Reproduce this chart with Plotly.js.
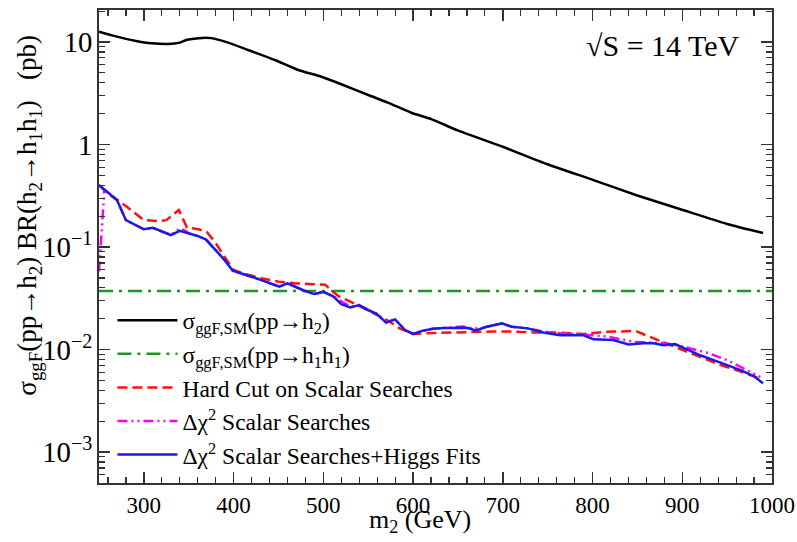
<!DOCTYPE html>
<html><head><meta charset="utf-8">
<script src="https://cdn.plot.ly/plotly-3.0.1.min.js"></script>
<style>body{margin:0;background:#fff}#c{width:797px;height:542px}</style>
</head><body><div id="c"></div>
<script>
// Black: sigma_ggF,SM(pp->h2)
const xSM = [250,268,290,309,327,340,348,361,375,394,416,446,472,498,520,550,572,598,621,649,700,749,801,849,898,950,990];
const ySM = [12.6,11.4,10.3,9.7,9.55,9.85,10.5,10.9,10.9,9.85,8.35,6.67,5.33,4.58,3.87,3.04,2.56,2.04,1.76,1.38,0.95,0.645,0.45,0.32,0.234,0.168,0.137];
// Green: sigma_ggF,SM(pp->h1h1)
const xHH = [250,1000];
const yHH = [0.0372,0.0372];
// Red dashed: Hard Cut on Scalar Searches
const xHard = [250,260,270,281,300,316,325,339,348,361,370,379,390,400,413,431,450,468,487,502,510,518,533,548,571,585,600,622,645,667,689,711,734,756,790,816,848,864,882,901,920,942,965,987];
const yHard = [0.40,0.33,0.29,0.247,0.183,0.179,0.183,0.23,0.155,0.149,0.141,0.113,0.080,0.0597,0.0545,0.0496,0.046,0.0443,0.0434,0.043,0.037,0.0327,0.0286,0.0247,0.0194,0.0161,0.0142,0.0145,0.0147,0.0147,0.015,0.015,0.0147,0.0147,0.0142,0.0149,0.0152,0.0133,0.0115,0.0099,0.0085,0.0071,0.0061,0.0052];
// Magenta dash-dot-dot: Delta chi^2 Scalar Searches
const xChi = [250,253,256,260,270,280,290,300,310,320,330,340,345,350,359,369,379,390,399,409,420,431,441,451,460,470,479,490,500,511,520,530,540,550,559,570,580,591,600,611,622,634,645,655,665,675,682,699,710,728,745,764,790,816,846,864,880,895,909,928,950,972,987];
const yChi = [0.058,0.15,0.36,0.34,0.29,0.183,0.164,0.149,0.154,0.143,0.131,0.152,0.146,0.136,0.129,0.119,0.095,0.0747,0.0587,0.0553,0.0513,0.0476,0.0443,0.041,0.0443,0.0405,0.0375,0.0348,0.0366,0.0330,0.0295,0.0262,0.0272,0.0243,0.0225,0.0185,0.0197,0.0155,0.0142,0.0153,0.0160,0.0163,0.0166,0.0168,0.0162,0.0160,0.0167,0.0180,0.0167,0.0161,0.0150,0.0144,0.0140,0.0134,0.0119,0.0118,0.0116,0.0110,0.0103,0.0093,0.0079,0.0063,0.0054];
// Blue: Delta chi^2 Scalar Searches + Higgs Fits
const xFit = [250,260,270,280,290,300,310,320,330,340,350,359,369,379,390,399,409,420,431,441,451,460,470,479,490,500,511,520,530,540,550,559,570,580,591,600,611,622,634,645,660,670,682,699,710,728,745,764,790,801,823,840,857,868,879,892,905,920,935,950,965,980,990];
const yFit = [0.403,0.339,0.288,0.183,0.164,0.149,0.154,0.143,0.131,0.144,0.136,0.129,0.119,0.095,0.0747,0.0587,0.0553,0.0513,0.0476,0.0443,0.041,0.0443,0.0405,0.0375,0.0348,0.0366,0.0330,0.0278,0.0258,0.0272,0.0243,0.0225,0.0183,0.0197,0.0155,0.0142,0.0153,0.0160,0.0162,0.0163,0.0163,0.0154,0.0167,0.0180,0.0167,0.0161,0.0147,0.0138,0.0138,0.0126,0.0124,0.0112,0.0115,0.0115,0.0110,0.0113,0.0100,0.0088,0.0079,0.0071,0.0063,0.0055,0.0047];

const names = [
  'σ<sub>ggF,SM</sub>(pp→h<sub>2</sub>)',
  'σ<sub>ggF,SM</sub>(pp→h<sub>1</sub>h<sub>1</sub>)',
  'Hard Cut on Scalar Searches',
  'Δχ<sup>2</sup> Scalar Searches',
  'Δχ<sup>2</sup> Scalar Searches+Higgs Fits'
];
const xTitle = 'm<sub>2</sub> (GeV)';
const yTitle = 'σ<sub>ggF</sub>(pp→h<sub>2</sub>) BR(h<sub>2</sub>→h<sub>1</sub>h<sub>1</sub>)&nbsp;&nbsp;&nbsp;(pb)';
const energyLabel = '√S = 14 TeV';

const serif = "'Liberation Serif', serif";
const traces = [
  {x:xSM,y:ySM,name:names[0],mode:'lines',line:{color:'#000000',width:2.5,shape:'spline',smoothing:0.5},legendrank:1},
  {x:xHH,y:yHH,name:names[1],mode:'lines',line:{color:'#1a9a1a',width:2.5,dash:'14px,6px,3px,6px'},legendrank:2},
  {x:xHard,y:yHard,name:names[2],mode:'lines',line:{color:'#ff1010',width:2.5,dash:'10px,5px'},legendrank:3},
  {x:xChi,y:yChi,name:names[3],mode:'lines',line:{color:'#ff00ff',width:2.5,dash:'10px,4px,2px,4px,2px,4px'},legendrank:4},
  {x:xFit,y:yFit,name:names[4],mode:'lines',line:{color:'#1a1ae6',width:2.5},legendrank:5}
];

const axisCommon = {
  showgrid:false, zeroline:false, showline:true, linecolor:'#333', linewidth:2,
  mirror:'ticks', ticks:'inside', tickcolor:'#333', tickwidth:1.5, ticklen:11,
  tickfont:{family:serif,size:23,color:'#000'}
};

const layout = {
  width:797, height:542,
  margin:{l:99,r:25,t:10,b:59},
  paper_bgcolor:'#fff', plot_bgcolor:'#fff',
  showlegend:true,
  legend:{x:0.02,y:0.39,xanchor:'left',yanchor:'top',bgcolor:'rgba(0,0,0,0)',
          font:{family:serif,size:23.5,color:'#000'},itemwidth:60,tracegroupgap:0},
  xaxis:Object.assign({}, axisCommon, {
    range:[250,1000], tickmode:'linear', tick0:300, dtick:100,
    minor:{ticks:'inside',ticklen:6,tickcolor:'#333',tickwidth:1.2,dtick:20,tick0:260}
  }),
  yaxis:Object.assign({}, axisCommon, {
    type:'log', range:[Math.log10(5e-4),Math.log10(20.5)], dtick:1, exponentformat:'power',
    minor:{ticks:'inside',ticklen:6,tickcolor:'#333',tickwidth:1.2,dtick:'D1'}
  }),
  annotations:[
    {text:energyLabel,xref:'paper',yref:'paper',x:0.955,y:0.965,xanchor:'right',yanchor:'top',
     showarrow:false,font:{family:serif,size:30,color:'#000'}},
    {text:xTitle,xref:'paper',yref:'paper',x:0.477,y:-0.119,xanchor:'center',yanchor:'bottom',
     showarrow:false,font:{family:serif,size:26,color:'#000'}},
    {text:yTitle,xref:'paper',yref:'paper',x:-0.076,y:0.567,xanchor:'right',yanchor:'middle',textangle:-90,
     showarrow:false,font:{family:serif,size:27,color:'#000'}}
  ]
};

Plotly.newPlot('c', traces, layout, {staticPlot:true});
</script></body></html>
